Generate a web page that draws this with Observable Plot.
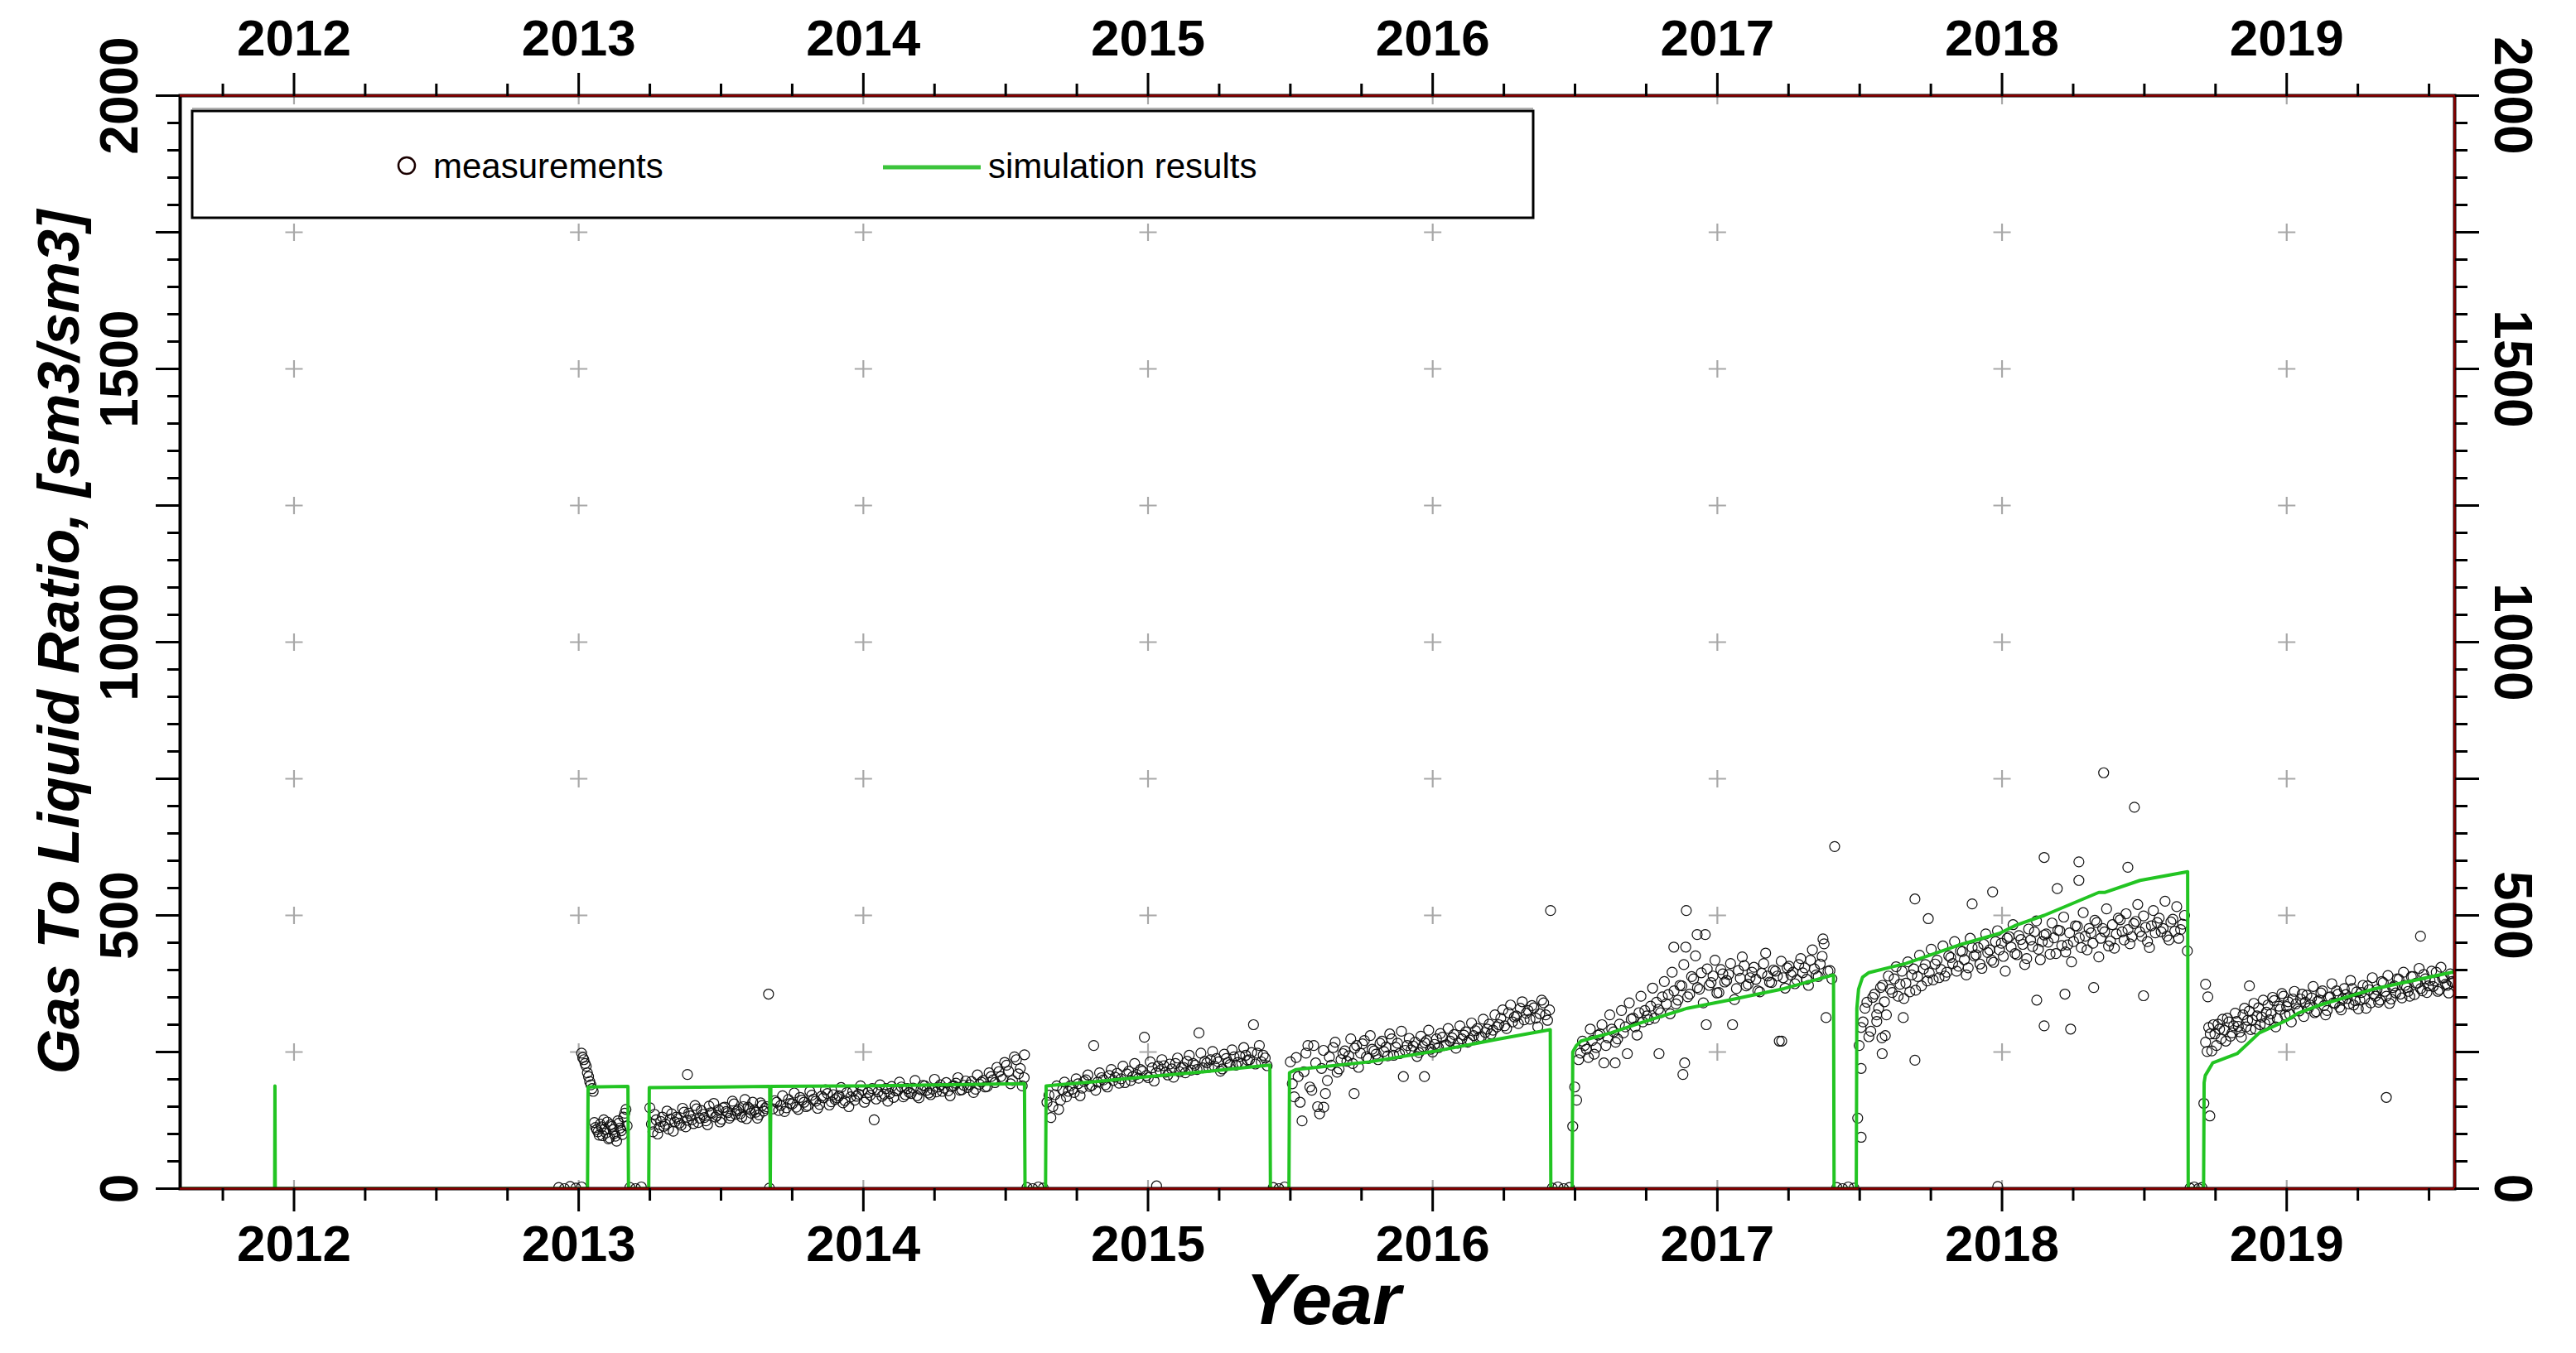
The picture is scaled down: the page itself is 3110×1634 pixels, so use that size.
<!DOCTYPE html>
<html>
<head>
<meta charset="utf-8">
<script src="https://cdn.jsdelivr.net/npm/d3@7"></script>
<script src="https://cdn.jsdelivr.net/npm/@observablehq/plot@0.6"></script>
<style>
html, body { margin: 0; padding: 0; background: #ffffff; }
#chart { position: relative; width: 3110px; height: 1634px; }
svg { font-family: "Liberation Sans", Arial, sans-serif; }
</style>
</head>
<body>
<div id="chart"></div>
<script>
// ---------- axes / ticks ----------
const xDomain = [2011.60, 2019.59];
const yDomain = [0, 2000];
const yearTicks = [2012, 2013, 2014, 2015, 2016, 2017, 2018, 2019];
const quarterTicks = [2011.75, 2012.25, 2012.5, 2012.75, 2013.25, 2013.5, 2013.75,
  2014.25, 2014.5, 2014.75, 2015.25, 2015.5, 2015.75, 2016.25, 2016.5, 2016.75,
  2017.25, 2017.5, 2017.75, 2018.25, 2018.5, 2018.75, 2019.25, 2019.5];
const yMajorTicks = [0, 250, 500, 750, 1000, 1250, 1500, 1750, 2000];
const yLabelTicks = [0, 500, 1000, 1500, 2000];
const yMinorTicks = d3.range(0, 2001, 50).filter(v => v % 250 !== 0);

const yTitle = "Gas To Liquid Ratio, [sm3/sm3]";
const xTitle = "Year";
const legendLabels = ["measurements", "simulation results"];

// ---------- simulation results (decimal year, GLR) ----------
const simT = [2011.600, 2011.932, 2011.933, 2011.934, 2013.031, 2013.033, 2013.173, 2013.175,
  2013.246, 2013.248, 2013.500, 2013.671, 2013.673, 2013.675, 2014.000, 2014.300, 2014.566, 2014.568,
  2014.640, 2014.642, 2014.800, 2015.000, 2015.200, 2015.428, 2015.430,
  2015.495, 2015.497, 2015.520, 2015.558, 2015.779, 2016.003, 2016.225, 2016.413, 2016.415,
  2016.490, 2016.492, 2016.505, 2016.521, 2016.626, 2016.745, 2016.894, 2017.042, 2017.234, 2017.408, 2017.410,
  2017.488, 2017.490, 2017.496, 2017.510, 2017.531, 2017.662, 2017.857, 2017.991, 2018.049, 2018.148,
  2018.340, 2018.360, 2018.485, 2018.652, 2018.654,
  2018.708, 2018.710, 2018.714, 2018.740, 2018.826, 2018.904, 2019.000, 2019.040, 2019.117, 2019.311, 2019.590];
const simV = [0, 0, 188, 0, 0, 186, 187, 0,
  0, 185, 186, 187, 0, 187, 188, 190, 192, 0,
  0, 188, 195, 205, 214, 226, 0,
  0, 212, 218, 220, 232, 251, 273, 291, 0,
  0, 250, 262, 270, 285, 306, 330, 345, 366, 391, 0,
  0, 330, 365, 387, 395, 412, 447, 467, 482, 500,
  542, 542, 564, 580, 0,
  0, 194, 207, 230, 247, 285, 308, 321, 336, 366, 397];

// ---------- measurements: production periods (start year, sampling step in days, values) ----------
const measSegStart = [2013.010, 2013.250, 2013.682, 2014.645, 2015.500, 2016.492, 2017.498, 2018.715];
const measSegStep = [3, 4, 5, 5, 5, 5, 5, 4];
// first sample of each period
const measSeg1 = [248, 236, 224, 205, 190, 178, 112, 104, 118, 97, 109, 122, 93, 114, 101, 87, 120, 106, 131, 145];
const measSeg2 = [148, 104, 126, 112, 131, 118, 109, 137, 122, 128, 116, 140, 125, 133, 119, 146, 129, 136, 124, 151,
  138, 131, 144, 127, 149, 139, 133, 155, 142, 137, 150, 128, 146, 158, 140, 135, 152, 147];
const measSeg3 = [146, 158, 152, 141, 163, 155, 149, 167, 158, 152, 171, 160, 154, 166, 174, 159, 163, 170, 157, 176,
  168, 162, 173, 180, 165, 171, 126, 177, 169, 183, 174, 167, 179, 186, 172, 176, 184, 170, 181, 188,
  175, 182, 177, 190, 184, 179, 187, 193, 180, 189, 185, 196, 182, 191, 198, 187, 205, 194, 214, 200,
  226, 192, 241, 210, 188];
const measSeg4 = [158, 130, 172, 145, 181, 168, 188, 176, 192, 184, 199, 187, 262, 195, 203, 190, 207, 198, 211, 201,
  194, 215, 205, 209, 218, 277, 203, 221, 212, 216, 225, 208, 219, 229, 214, 222, 233, 217, 226, 285,
  221, 230, 236, 224, 232, 219, 238, 227, 241, 231, 229, 244, 236, 300, 248, 232, 239];
const measSeg5 = [232, 168, 205, 124, 248, 186, 262, 150, 220, 174, 241, 258, 213, 236, 252, 243, 229, 262, 248, 271,
  238, 255, 246, 266, 251, 243, 274, 259, 247, 205, 262, 254, 268, 249, 260, 271, 255, 264, 258, 277,
  263, 270, 282, 266, 274, 287, 272, 280, 293, 278, 286, 301, 290, 296, 312, 298, 322, 305, 316, 330,
  309, 326, 335, 312, 320, 340, 308];
const measSeg6 = [114, 162, 248, 262, 240, 271, 258, 283, 230, 276, 292, 268, 301, 285, 247, 310, 296, 322, 305, 316,
  334, 312, 328, 351, 338, 320, 362, 345, 371, 442, 356, 384, 368, 395, 465, 372, 389, 358, 401, 378,
  392, 300, 366, 385, 408, 374, 396, 383, 360, 412, 389, 377, 398, 270, 386, 404, 391, 375, 410, 395,
  383, 418, 402, 388, 425, 313, 399];
const measSeg7 = [262, 305, 341, 288, 356, 330, 372, 318, 365, 384, 352, 398, 376, 360, 402, 388, 371, 410, 395, 382,
  418, 401, 389, 426, 412, 398, 435, 419, 404, 441, 428, 411, 447, 432, 418, 452, 437, 425, 458, 442,
  430, 463, 447, 421, 455, 470, 438, 452, 466, 429, 459, 473, 445, 433, 468, 452, 480, 441, 462, 476,
  449, 487, 458, 470, 444, 483, 466, 492, 455, 474, 461, 489, 470, 499, 452, 481, 468, 495, 476, 462,
  488, 471, 458, 484];
const measSeg8 = [268, 295, 252, 283, 301, 274, 290, 312, 279, 298, 306, 287, 318, 296, 325, 309, 292, 331, 314, 302,
  336, 320, 344, 311, 328, 352, 333, 319, 347, 338, 325, 356, 341, 330, 349, 322, 343, 358, 335, 326,
  351, 340, 362, 332, 347, 355, 338, 366, 344, 329, 359, 348, 371, 340, 356, 364, 345, 377, 352, 339,
  368, 358, 383, 349, 372, 361, 388, 355, 376, 366, 392, 359, 381, 370, 396, 364, 385, 374, 358, 379];
// second sample of each period (taken half a step later)
const measSeg1b = [240, 229, 212, 196, 183, 121, 108, 98, 113, 126, 102, 91, 117, 108, 96, 124, 111, 99, 138, 115];
const measSeg2b = [118, 136, 100, 123, 114, 142, 127, 105, 131, 120, 147, 113, 138, 126, 152, 121, 143, 130, 117, 139,
  156, 134, 122, 148, 141, 129, 160, 136, 145, 131, 163, 149, 138, 144, 129, 157, 142, 150];
const measSeg3b = [161, 143, 170, 148, 156, 175, 145, 162, 150, 178, 164, 147, 169, 181, 153, 172, 166, 185, 161, 150,
  178, 169, 188, 158, 176, 183, 164, 190, 173, 160, 187, 179, 195, 168, 183, 174, 198, 166, 189, 180,
  172, 200, 186, 178, 194, 170, 188, 203, 181, 197, 190, 176, 208, 195, 186, 212, 199, 222, 205, 231,
  215, 198, 236, 220, 203];
const measSeg4b = [171, 150, 188, 162, 195, 178, 182, 201, 170, 196, 208, 189, 180, 212, 199, 186, 218, 204, 193, 224,
  210, 198, 229, 202, 215, 207, 232, 197, 224, 236, 213, 228, 204, 239, 221, 212, 244, 229, 218, 248,
  233, 222, 251, 238, 215, 246, 231, 254, 226, 242, 258, 235, 249, 228, 262, 244, 225];
const measSeg5b = [192, 240, 158, 214, 262, 180, 230, 137, 253, 198, 226, 268, 219, 247, 233, 274, 257, 222, 265, 241,
  280, 252, 236, 270, 259, 283, 244, 266, 288, 253, 275, 261, 242, 279, 267, 290, 250, 274, 284, 262,
  293, 276, 257, 298, 281, 268, 303, 289, 277, 310, 292, 283, 318, 300, 327, 293, 336, 314, 302, 342,
  321, 310, 331, 296, 345, 318, 327];
const measSeg6b = [186, 236, 270, 255, 292, 246, 281, 300, 262, 318, 287, 274, 326, 296, 340, 312, 281, 352, 326, 309,
  367, 341, 322, 379, 355, 396, 338, 372, 410, 351, 388, 426, 365, 340, 402, 377, 418, 359, 393, 381,
  412, 346, 399, 424, 371, 386, 405, 362, 394, 431, 378, 400, 389, 416, 367, 407, 396, 382, 421, 404,
  372, 437, 391, 411, 448, 398, 384];
const measSeg7b = [295, 330, 278, 350, 318, 368, 342, 389, 359, 406, 374, 348, 415, 391, 363, 427, 402, 380, 438, 411,
  386, 444, 396, 423, 452, 407, 434, 391, 458, 426, 441, 403, 466, 437, 414, 472, 449, 398, 461, 483,
  428, 456, 410, 475, 443, 490, 419, 464, 451, 486, 430, 472, 497, 446, 415, 481, 459, 505, 437, 468,
  491, 424, 476, 512, 453, 440, 495, 470, 503, 448, 485, 520, 462, 478, 441, 509, 487, 470, 526, 455,
  493, 516, 474, 500];
const measSeg8b = [251, 283, 300, 262, 292, 310, 270, 305, 285, 321, 297, 277, 330, 308, 291, 339, 316, 300, 345, 323,
  309, 350, 296, 334, 357, 318, 342, 305, 361, 328, 347, 315, 354, 336, 370, 324, 345, 362, 318, 350,
  375, 339, 356, 327, 366, 348, 381, 336, 360, 345, 372, 330, 364, 386, 352, 341, 379, 361, 390, 347,
  371, 384, 356, 396, 368, 352, 388, 376, 403, 362, 384, 371, 398, 380, 361, 405, 386, 372, 393, 377];

// scattered individual measurements
const measOutT = [2013.382, 2013.667, 2014.566, 2015.617, 2015.724, 2015.971, 2016.414,
  2016.641, 2016.795, 2016.847, 2016.879, 2016.885, 2016.891, 2016.929, 2016.961, 2017.226, 2017.371, 2017.412,
  2017.493, 2017.505, 2017.505, 2017.560, 2017.578, 2017.579, 2017.590, 2017.653, 2017.694, 2017.694, 2017.741,
  2017.895, 2017.967, 2018.122, 2018.148, 2018.148, 2018.194, 2018.221, 2018.241, 2018.270, 2018.270, 2018.322,
  2018.357, 2018.442, 2018.465, 2018.497, 2018.651,
  2018.709, 2018.715, 2018.723, 2018.730, 2018.869, 2019.350, 2019.470];
const measOutV = [209, 356, 245, 149, 174, 205, 509,
  230, 247, 442, 209, 230, 509, 465, 300, 270, 457, 626,
  129, 94, 220, 306, 276, 247, 280, 313, 235, 530, 494,
  521, 543, 345, 606, 298, 549, 356, 292, 598, 564, 368,
  761, 588, 698, 353, 435,
  156, 374, 351, 133, 371, 167, 462];

// measurements recorded as ~zero during shut-in periods
const measZeroT = [2012.930, 2012.950, 2012.970, 2012.990, 2013.010, 2013.180, 2013.200, 2013.220, 2013.670,
  2014.575, 2014.595, 2014.615, 2014.632, 2015.030, 2015.440, 2015.460, 2015.480,
  2016.420, 2016.440, 2016.460, 2016.480, 2017.420, 2017.440, 2017.460, 2017.480, 2017.985,
  2018.660, 2018.675, 2018.690, 2018.702];
const measZeroV = [2, 0, 4, 1, 3, 2, 0, 3, 1,
  2, 0, 3, 1, 5, 2, 0, 3,
  1, 3, 0, 2, 2, 0, 3, 1, 4,
  1, 3, 0, 2];

// ---------- build tables ----------
const segsA = [measSeg1, measSeg2, measSeg3, measSeg4, measSeg5, measSeg6, measSeg7, measSeg8];
const segsB = [measSeg1b, measSeg2b, measSeg3b, measSeg4b, measSeg5b, measSeg6b, measSeg7b, measSeg8b];
const meas = [];
segsA.forEach((vals, s) => vals.forEach((v, i) => meas.push({t: measSegStart[s] + i * measSegStep[s] / 365.25, v})));
segsB.forEach((vals, s) => vals.forEach((v, i) => meas.push({t: measSegStart[s] + (i + 0.5) * measSegStep[s] / 365.25, v})));
measOutT.forEach((t, i) => meas.push({t, v: measOutV[i]}));
measZeroT.forEach((t, i) => meas.push({t, v: measZeroV[i]}));
const sim = simT.map((t, i) => ({t, v: simV[i]}));
const gridPts = d3.cross(yearTicks, yMajorTicks).map(([x, y]) => ({x, y}));

const thinPlus = {
  draw(ctx, size) {
    const h = Math.sqrt(size / Math.PI);
    ctx.moveTo(-h, 0); ctx.lineTo(h, 0);
    ctx.moveTo(0, -h); ctx.lineTo(0, h);
  }
};

const FONT = "Liberation Sans, Arial, sans-serif";
const SIM_GREEN = "#22c422";
const noText = () => "";

const chart = Plot.plot({
  width: 3110,
  height: 1634,
  marginLeft: 217,
  marginRight: 147,
  marginTop: 115,
  marginBottom: 199,
  x: {type: "linear", domain: xDomain, axis: null},
  y: {type: "linear", domain: yDomain, axis: null},
  style: {fontFamily: FONT, background: "white", color: "black", overflow: "visible"},
  marks: [
    Plot.dot(gridPts, {x: "x", y: "y", symbol: thinPlus, r: 10.5, stroke: "#a8a8a8", strokeWidth: 2.2, fill: "none", clip: true}),
    Plot.dot(meas, {x: "t", y: "v", r: 6, stroke: "#111111", strokeWidth: 1.2, fill: "none", clip: true}),
    Plot.line(sim, {x: "t", y: "v", stroke: SIM_GREEN, strokeWidth: 4, clip: true}),
    Plot.frame({stroke: "black", strokeWidth: 4}),
    Plot.ruleY([yDomain[0], yDomain[1]], {stroke: "#8b0000", strokeWidth: 2.5}),
    Plot.ruleX([xDomain[1]], {stroke: "#8b0000", strokeWidth: 2.5}),
    Plot.axisX({anchor: "top", ticks: yearTicks, tickSize: 28, tickFormat: noText, strokeWidth: 3, label: null}),
    Plot.axisX({anchor: "top", ticks: quarterTicks, tickSize: 15, tickFormat: noText, strokeWidth: 3, label: null}),
    Plot.axisX({anchor: "bottom", ticks: yearTicks, tickSize: 28, tickFormat: noText, strokeWidth: 3, label: null}),
    Plot.axisX({anchor: "bottom", ticks: quarterTicks, tickSize: 15, tickFormat: noText, strokeWidth: 3, label: null}),
    Plot.axisY({anchor: "left", ticks: yMajorTicks, tickSize: 29, tickFormat: noText, strokeWidth: 3, label: null}),
    Plot.axisY({anchor: "left", ticks: yMinorTicks, tickSize: 15, tickFormat: noText, strokeWidth: 3, label: null}),
    Plot.axisY({anchor: "right", ticks: yMajorTicks, tickSize: 29, tickFormat: noText, strokeWidth: 3, label: null}),
    Plot.axisY({anchor: "right", ticks: yMinorTicks, tickSize: 15, tickFormat: noText, strokeWidth: 3, label: null}),
    // year labels
    Plot.text(yearTicks, {x: d => d, frameAnchor: "top", dy: -68, text: d => String(d), fontSize: 62, fontWeight: "bold", textAnchor: "middle", lineAnchor: "middle", fill: "black"}),
    Plot.text(yearTicks, {x: d => d, frameAnchor: "bottom", dy: 68, text: d => String(d), fontSize: 62, fontWeight: "bold", textAnchor: "middle", lineAnchor: "middle", fill: "black"}),
    // value labels
    Plot.text(yLabelTicks, {y: d => d, frameAnchor: "left", dx: -72, rotate: -90, text: d => String(d), fontSize: 64, fontWeight: "bold", textAnchor: "middle", lineAnchor: "middle", fill: "black"}),
    Plot.text(yLabelTicks, {y: d => d, frameAnchor: "right", dx: 69, rotate: 90, text: d => String(d), fontSize: 64, fontWeight: "bold", textAnchor: "middle", lineAnchor: "middle", fill: "black"}),
    // titles
    Plot.text([yTitle], {frameAnchor: "left", dx: -145, rotate: -90, text: d => d, fontSize: 70, fontWeight: "bold", fontStyle: "italic", textAnchor: "middle", lineAnchor: "middle", fill: "black"}),
    Plot.text([xTitle], {frameAnchor: "bottom", dx: 7, dy: 135, text: d => d, fontSize: 88, fontWeight: "bold", fontStyle: "italic", textAnchor: "middle", lineAnchor: "middle", fill: "black"})
  ]
});

// ---------- legend (inside the plot area, top-left) ----------
const svg = d3.select(chart);
const lg = svg.append("g").attr("font-family", FONT).attr("text-anchor", "start");
lg.append("line").attr("x1", 232).attr("x2", 1851).attr("y1", 131).attr("y2", 131).attr("stroke", "#b0b0b0").attr("stroke-width", 2);
lg.append("rect").attr("x", 232).attr("y", 134).attr("width", 1619).attr("height", 129)
  .attr("fill", "white").attr("stroke", "black").attr("stroke-width", 3);
lg.append("circle").attr("cx", 491).attr("cy", 200).attr("r", 10).attr("fill", "none").attr("stroke", "#1a0000").attr("stroke-width", 2.5);
lg.append("text").attr("x", 523).attr("y", 200).attr("dy", "0.35em").attr("text-anchor", "start").attr("font-size", 42).attr("fill", "black").text(legendLabels[0]);
lg.append("line").attr("x1", 1066).attr("x2", 1184).attr("y1", 202).attr("y2", 202).attr("stroke", "#3cc43c").attr("stroke-width", 5);
lg.append("text").attr("x", 1193).attr("y", 200).attr("dy", "0.35em").attr("text-anchor", "start").attr("font-size", 42).attr("fill", "black").text(legendLabels[1]);

document.getElementById("chart").appendChild(chart);
</script>
</body>
</html>
